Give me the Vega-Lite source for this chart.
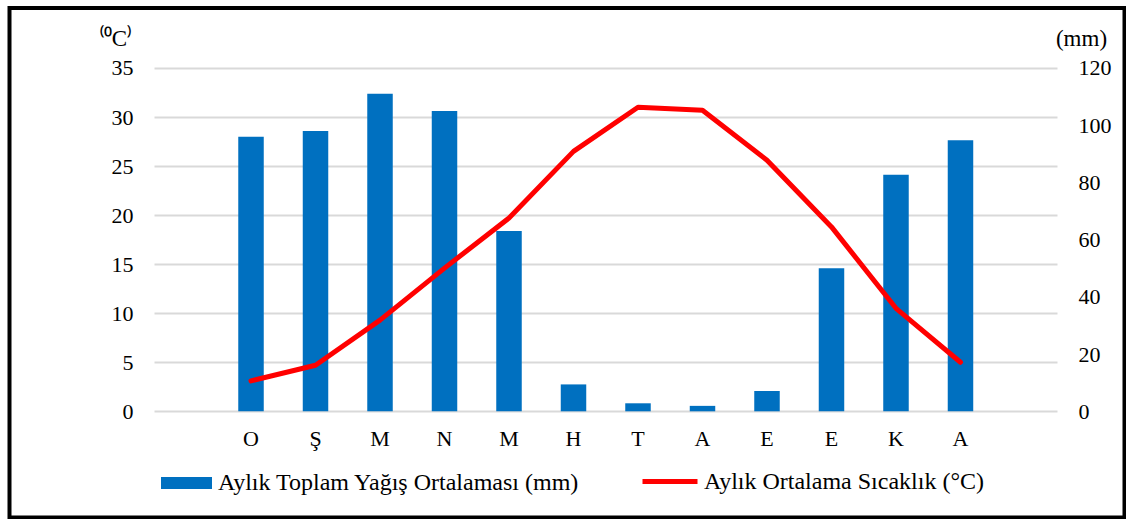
{
  "$schema": "https://vega.github.io/schema/vega-lite/v6.json",
  "width": 1115,
  "height": 509.5,
  "autosize": {"type": "none"},
  "padding": {"left": 9.5, "top": 8, "right": 1.5, "bottom": 1.5},
  "background": "white",
  "config": {
    "view": {"stroke": "black", "strokeWidth": 4},
    "font": "'Liberation Serif', 'Times New Roman', serif"
  },
  "data": {
    "values": [
      {"ay": "O", "yagis": 96, "sicaklik": 3.1},
      {"ay": "Ş", "yagis": 98, "sicaklik": 4.7},
      {"ay": "M1", "yagis": 111, "sicaklik": 9.3},
      {"ay": "N", "yagis": 105, "sicaklik": 14.6},
      {"ay": "M2", "yagis": 63, "sicaklik": 19.7},
      {"ay": "H", "yagis": 9.4, "sicaklik": 26.5},
      {"ay": "T", "yagis": 2.8, "sicaklik": 31.0},
      {"ay": "A1", "yagis": 1.9, "sicaklik": 30.7},
      {"ay": "E1", "yagis": 7.1, "sicaklik": 25.6},
      {"ay": "E2", "yagis": 50, "sicaklik": 18.8},
      {"ay": "K", "yagis": 82.7, "sicaklik": 10.5},
      {"ay": "A2", "yagis": 94.7, "sicaklik": 5.0}
    ]
  },
  "encoding": {
    "x": {
      "field": "ay",
      "type": "nominal",
      "scale": {
        "domain": [" ", "  ", "   ", "O", "Ş", "M1", "N", "M2", "H", "T", "A1", "E1", "E2", "K", "A2", "    "],
        "paddingInner": 0.6047,
        "paddingOuter": 0.946,
        "align": 0.289
      },
      "axis": {
        "title": null,
        "domain": false,
        "ticks": false,
        "grid": false,
        "labelAngle": 0,
        "labelFont": "'Liberation Serif', 'Times New Roman', serif",
        "labelFontSize": 22,
        "labelColor": "black",
        "labelPadding": 17,
        "offset": -106.2,
        "labelExpr": "substring(datum.label, 0, 1)"
      }
    }
  },
  "layer": [
    {
      "mark": {"type": "bar"},
      "encoding": {
        "y": {
          "field": "yagis",
          "type": "quantitative",
          "scale": {"domain": [-37.12, 140.97], "nice": false, "zero": false},
          "axis": {
            "orient": "right",
            "values": [0, 20, 40, 60, 80, 100, 120],
            "offset": -67.5,
            "domain": false,
            "grid": false,
            "ticks": false,
            "labelPadding": 21,
            "labelFont": "'Liberation Serif', 'Times New Roman', serif",
            "labelFontSize": 22,
            "labelColor": "black",
            "title": "(mm)",
            "titleAngle": 0,
            "titleX": 24,
            "titleY": 30,
            "titleAlign": "center",
            "titleBaseline": "middle",
            "titleFont": "'Liberation Serif', 'Times New Roman', serif",
            "titleFontSize": 23,
            "titleFontWeight": "normal",
            "titleColor": "black"
          }
        },
        "color": {
          "datum": "Aylık Toplam Yağış Ortalaması (mm)",
          "scale": {"range": ["#0070c0"]},
          "legend": {
            "orient": "none",
            "legendX": 151.5,
            "legendY": 449.5,
            "title": null,
            "padding": 0,
            "symbolType": "M-1,-0.235H1V0.235H-1Z",
            "symbolSize": 2601,
            "symbolStrokeWidth": 0,
            "symbolOpacity": 1,
            "labelFont": "'Liberation Serif', 'Times New Roman', serif",
            "labelFontSize": 24,
            "labelColor": "black",
            "labelOffset": 6,
            "labelLimit": 800
          }
        }
      }
    },
    {
      "mark": {"type": "line", "strokeWidth": 5, "strokeCap": "round", "strokeJoin": "round"},
      "encoding": {
        "y": {
          "field": "sicaklik",
          "type": "quantitative",
          "scale": {"domain": [-10.827, 41.117], "nice": false, "zero": false},
          "axis": {
            "orient": "left",
            "values": [0, 5, 10, 15, 20, 25, 30, 35],
            "offset": -144.5,
            "domain": false,
            "grid": false,
            "ticks": true,
            "tickSize": -903,
            "tickColor": "#d9d9d9",
            "tickWidth": 1.8,
            "labelPadding": 924,
            "labelFont": "'Liberation Serif', 'Times New Roman', serif",
            "labelFontSize": 22,
            "labelColor": "black",
            "title": "⁽⁰C⁾",
            "titleAngle": 0,
            "titleX": -39,
            "titleY": 30,
            "titleAlign": "center",
            "titleBaseline": "middle",
            "titleFont": "'Liberation Serif', 'Times New Roman', serif",
            "titleFontSize": 23,
            "titleFontWeight": "normal",
            "titleColor": "black",
            "zindex": 0
          }
        },
        "stroke": {
          "datum": "Aylık Ortalama Sıcaklık (°C)",
          "scale": {"range": ["#ff0000"]},
          "legend": {
            "orient": "none",
            "legendX": 630.5,
            "legendY": 443.5,
            "title": null,
            "padding": 0,
            "symbolType": "stroke",
            "symbolSize": 3025,
            "symbolStrokeWidth": 5,
            "labelFont": "'Liberation Serif', 'Times New Roman', serif",
            "labelFontSize": 24,
            "labelColor": "black",
            "labelOffset": 4,
            "labelLimit": 800
          }
        }
      }
    }
  ],
  "resolve": {"scale": {"y": "independent"}}
}
